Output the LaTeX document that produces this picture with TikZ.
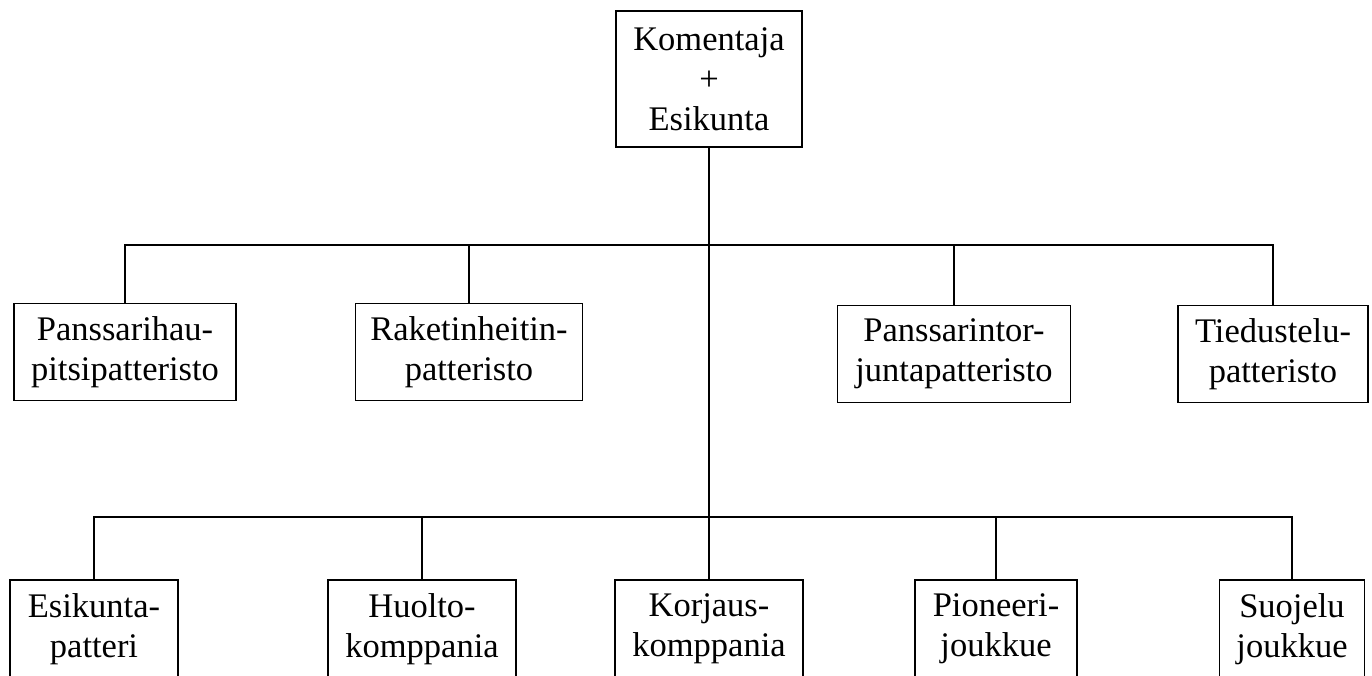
\documentclass[tikz,border=0pt]{standalone}
\usepackage{fontspec}
\setmainfont{Liberation Serif}
\begin{document}
\begin{tikzpicture}[x=1pt,y=-1pt,
  unitbox/.style={draw, line width=1.8pt, inner sep=0pt, align=center,
    font=\fontsize{34.5}{40}\selectfont},
  link/.style={line width=1.8pt}]
\useasboundingbox (0,0) rectangle (1372,676);
% top
\node[unitbox, minimum width=186pt, minimum height=136pt] (top) at (709,79) {Komentaja\\+\\Esikunta};
% level 1
\node[unitbox, minimum width=222pt, minimum height=97pt] (pan) at (125,352) {Panssarihau-\\pitsipatteristo};
\node[unitbox, minimum width=227pt, minimum height=97pt] (rak) at (469,352) {Raketinheitin-\\patteristo};
\node[unitbox, minimum width=233pt, minimum height=97pt] (ptj) at (954,354) {Panssarintor-\\juntapatteristo};
\node[unitbox, minimum width=190pt, minimum height=97pt] (tie) at (1273,354) {Tiedustelu-\\patteristo};
% level 2
\node[unitbox, minimum width=168pt, minimum height=98pt] (esi) at (94,629) {Esikunta-\\patteri};
\node[unitbox, minimum width=188pt, minimum height=98pt] (huo) at (422,629) {Huolto-\\komppania};
\node[unitbox, minimum width=188pt, minimum height=98pt] (kor) at (709,629) {Korjaus-\\komppania};
\node[unitbox, minimum width=162pt, minimum height=98pt] (pio) at (996,629) {Pioneeri-\\joukkue};
\node[unitbox, minimum width=145pt, minimum height=98pt] (suo) at (1292,629) {Suojelu\\joukkue};
% junctions
\coordinate (b1) at (709,245);
\coordinate (b2) at (709,517);
% connectors
\draw[link] (top.south) -- (kor.north);
\draw[link] (pan.north) -- (pan.north |- b1) -- (tie.north |- b1) -- (tie.north);
\draw[link] (rak.north) -- (rak.north |- b1);
\draw[link] (ptj.north) -- (ptj.north |- b1);
\draw[link] (esi.north) -- (esi.north |- b2) -- (suo.north |- b2) -- (suo.north);
\draw[link] (huo.north) -- (huo.north |- b2);
\draw[link] (pio.north) -- (pio.north |- b2);
\end{tikzpicture}
\end{document}
